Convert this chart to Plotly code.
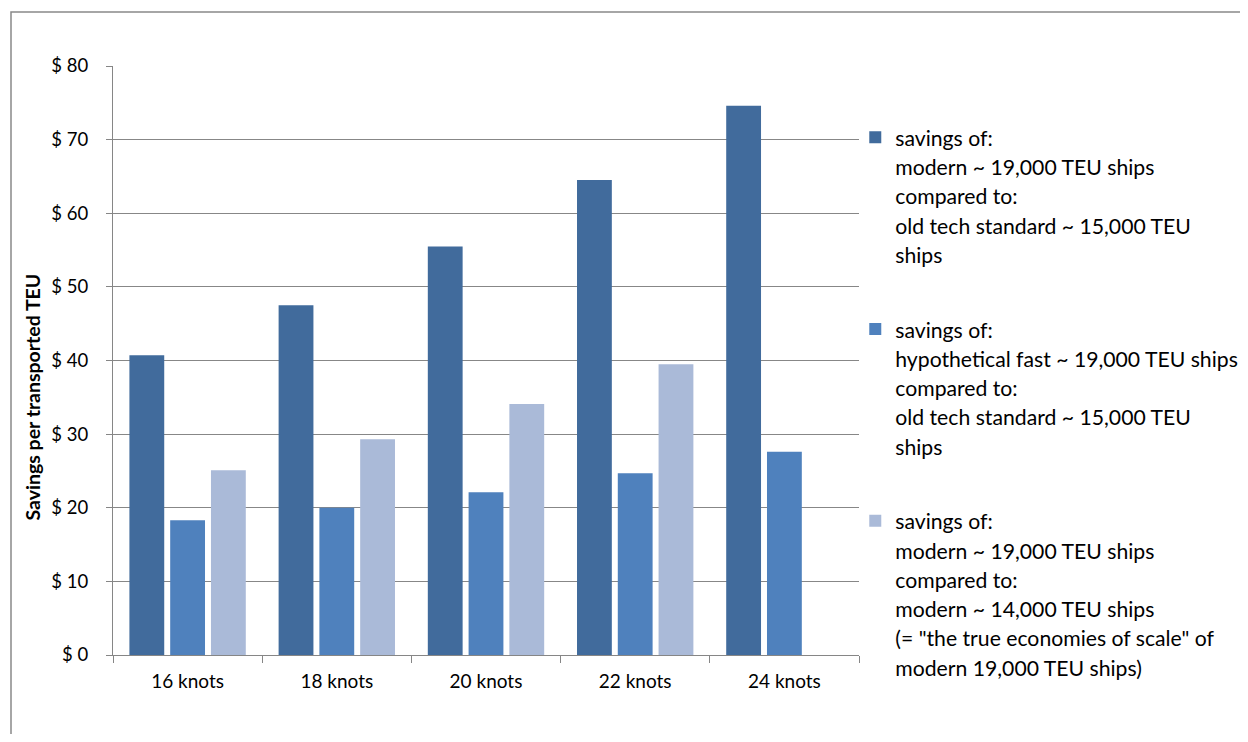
import plotly.graph_objects as go

categories = ["16 knots", "18 knots", "20 knots", "22 knots", "24 knots"]
modern_vs_old = [40.7, 47.5, 55.5, 64.5, 74.6]
fast_vs_old = [18.3, 20.0, 22.1, 24.7, 27.6]
modern19_vs_modern14 = [25.1, 29.3, 34.1, 39.5, None]

series_names = [
    ["savings of:", "modern ~ 19,000 TEU ships", "compared to:",
     "old tech standard ~ 15,000 TEU", "ships"],
    ["savings of:", "hypothetical fast ~ 19,000 TEU ships", "compared to:",
     "old tech standard ~ 15,000 TEU", "ships"],
    ["savings of:", "modern ~ 19,000 TEU ships", "compared to:",
     "modern ~ 14,000 TEU ships", "(= \"the true economies of scale\" of",
     "modern 19,000 TEU ships)"],
]
y_tick_vals = [0, 10, 20, 30, 40, 50, 60, 70, 80]
y_tick_labels = ["$ 0", "$ 10", "$ 20", "$ 30", "$ 40", "$ 50", "$ 60", "$ 70", "$ 80"]
y_title = "Savings per transported TEU"

colors = ["#416B9C", "#4F81BD", "#AABAD8"]
FONT = "Lato, 'Open Sans', sans-serif"
LEG_TXT = 21.2


def legend_name(lines):
    return "<br>".join(f'<span style="font-size:{LEG_TXT}px">{l}</span>' for l in lines)


fig = go.Figure()
for i, vals in enumerate([modern_vs_old, fast_vs_old, modern19_vs_modern14]):
    fig.add_trace(go.Bar(
        x=categories, y=vals, name=legend_name(series_names[i]),
        marker=dict(color=colors[i], line=dict(width=0)),
        legendgroup=f"g{i}",
    ))

# page body has an 8px margin in the browser: keep the figure inside the window
W, H = 1240, 726
L, T = 105, 58
pw, ph = 746, 589
R, B = W - L - pw, H - T - ph

fig.update_layout(
    width=W, height=H,
    margin=dict(l=L, r=R, t=T, b=B, autoexpand=False),
    paper_bgcolor="white", plot_bgcolor="white",
    barmode="group", bargap=0.18, bargroupgap=0.146,
    font=dict(family=FONT, size=19, color="#000000"),
    showlegend=True,
    legend=dict(
        x=0.995, xanchor="left", y=0.915, yanchor="top",
        font=dict(family=FONT, size=22.5, color="#000000"),
        valign="top", tracegroupgap=42.5, traceorder="grouped",
        bgcolor="rgba(0,0,0,0)", borderwidth=0,
    ),
    xaxis=dict(
        type="category", showgrid=False, showline=True, linecolor="#868686", linewidth=1.3,
        ticks="outside", tickson="boundaries", ticklen=7, tickcolor="#868686", tickwidth=1.3,
        tickfont=dict(family=FONT, size=19), ticklabelstandoff=9,
        range=[-0.5, 4.5],
    ),
    yaxis=dict(
        range=[0, 80], tickvals=y_tick_vals, ticktext=y_tick_labels,
        showgrid=True, gridcolor="#878787", gridwidth=1.3,
        showline=True, linecolor="#868686", linewidth=1.3,
        ticks="outside", ticklen=6, tickcolor="#868686", tickwidth=1.3,
        tickfont=dict(family=FONT, size=18.5), ticklabelstandoff=14,
        zeroline=False,
    ),
    annotations=[dict(
        text=f"<b>{y_title}</b>", xref="paper", yref="paper",
        x=(23.5 - L) / pw, y=(T + ph - 389) / ph, xanchor="center", yanchor="middle",
        textangle=-90, showarrow=False, font=dict(family=FONT, size=19.5, color="#000000"),
    )],
    shapes=[dict(
        type="rect", xref="paper", yref="paper",
        x0=(3 - L) / pw, x1=(W + 20 - L) / pw,
        y0=-(H + 20 - T - ph) / ph, y1=(T + ph - 4) / ph,
        line=dict(color="#898989", width=1.5), fillcolor="rgba(0,0,0,0)", layer="below",
    )],
)

fig.write_html("out.html")
